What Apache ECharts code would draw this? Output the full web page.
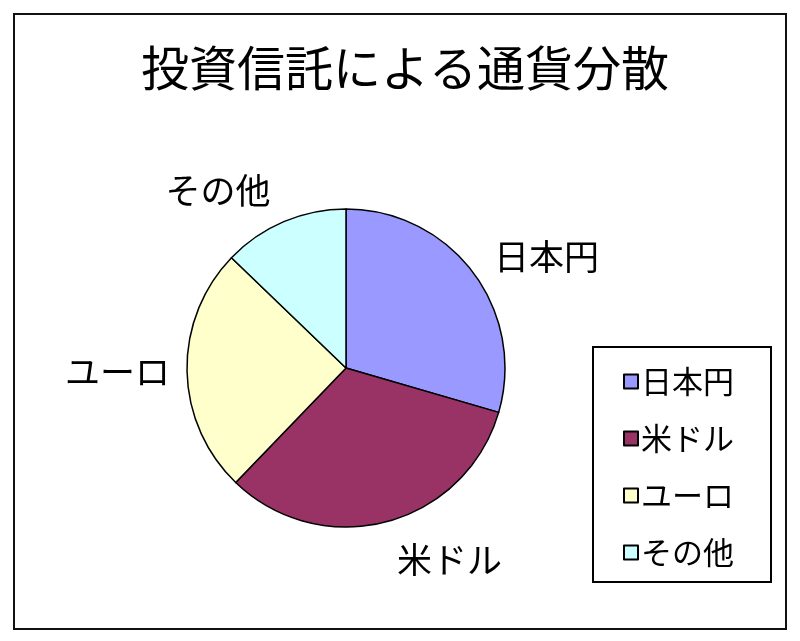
<!DOCTYPE html>
<html>
<head>
<meta charset="utf-8">
<script src="https://cdn.jsdelivr.net/npm/echarts@6/dist/echarts.min.js"></script>
<style>
    html, body { margin: 0; padding: 0; background: #fff; }
    #chart { width: 800px; height: 641px; }
</style>
</head>
<body>
<div id="chart"></div>
<script>
// 通貨の内訳 (%)
const currencies = ['日本円', '米ドル', 'ユーロ', 'その他']
const shares = [29.5, 32.7, 25.0, 12.8]
const sliceColors = ['#9999FF', '#993366', '#FFFFCC', '#CCFFFF']
// ラベルまでの距離 (ラベル線は非表示)
const labelLengths = [26, 39, 17, 34]

const FONT = '"Noto Sans CJK JP", "Noto Sans", sans-serif'

const myChart = echarts.init(document.getElementById('chart'))
myChart.setOption({
    backgroundColor: '#fff',
    animation: false,
    title: {
        text: '投資信託による通貨分散',
        left: 136,
        top: 39,
        textStyle: {
            fontFamily: FONT,
            fontSize: 48,
            fontWeight: 'normal',
            color: '#000',
        },
    },
    // 外枠
    graphic: [
        {
            type: 'rect',
            shape: { x: 14, y: 14, width: 772, height: 615 },
            style: { fill: 'none', stroke: '#111', lineWidth: 2 },
            silent: true,
        },
    ],
    legend: {
        orient: 'vertical',
        left: 593,
        top: 347,
        padding: [19, 37, 14, 30],
        itemGap: 26,
        itemWidth: 14,
        itemHeight: 14,
        icon: 'rect',
        borderColor: '#000',
        borderWidth: 2,
        textStyle: {
            fontFamily: FONT,
            fontSize: 31,
            color: '#000',
            padding: [0, 0, 0, -2],
        },
        data: currencies,
    },
    series: [
        {
            name: '通貨分散',
            type: 'pie',
            center: [346, 368],
            radius: 159,
            startAngle: 90,
            clockwise: true,
            avoidLabelOverlap: false,
            itemStyle: {
                borderColor: '#000',
                borderWidth: 1.5,
            },
            label: {
                show: true,
                position: 'outside',
                distanceToLabelLine: 0,
                fontFamily: FONT,
                fontSize: 35,
                color: '#000',
            },
            labelLine: {
                show: false,
                length2: 0,
            },
            emphasis: { disabled: true },
            data: currencies.map((name, i) => ({
                name: name,
                value: shares[i],
                itemStyle: { color: sliceColors[i] },
                labelLine: { show: false, length: labelLengths[i], length2: 0 },
            })),
        },
    ],
})
window.addEventListener('resize', myChart.resize)
</script>
</body>
</html>
